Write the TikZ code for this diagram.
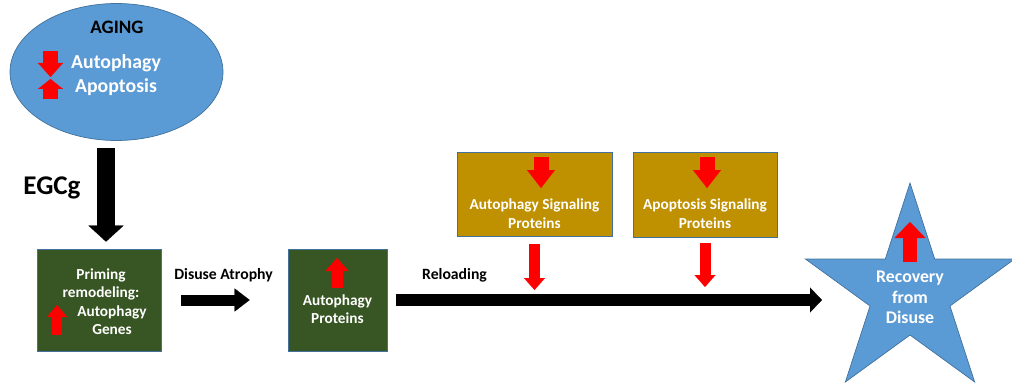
\documentclass[tikz,border=0pt]{standalone}
\usepackage{fontspec}
\setmainfont{Carlito}
\usetikzlibrary{arrows.meta,shapes.geometric}

\definecolor{agingblue}{RGB}{91,155,213}
\definecolor{edgeblue}{RGB}{65,113,156}
\definecolor{boxgreen}{RGB}{56,86,35}
\definecolor{boxgold}{RGB}{191,144,0}

\tikzset{
  greenbox/.style={draw=edgeblue,fill=boxgreen,line width=0.7pt,inner sep=0},
  goldbox/.style={draw=edgeblue,fill=boxgold,line width=0.7pt,inner sep=0},
  whitetext/.style={text=white,align=center,inner sep=0,font=\bfseries\fontsize{15.3}{18.5}\selectfont},
  blacktext/.style={text=black,inner sep=0,font=\bfseries\fontsize{15.7}{18}\selectfont},
  blockarrow/.style n args={3}{draw=black,line width=#1,-{Triangle[width=#2,length=#3,line width=0.1pt]}},
  redtip/.style n args={3}{draw=red,line width=#1,-{Triangle[width=#2,length=#3,line width=0.1pt]}}
}

\begin{document}
\begin{tikzpicture}[x=1pt,y=-1pt]
\useasboundingbox (0,0) rectangle (1012,385);
% aging
\node[ellipse,draw=edgeblue,fill=agingblue,line width=0.7pt,minimum width=213pt,minimum height=137pt] (aging) at (116.5,72) {};
\node[blacktext,font=\bfseries\fontsize{19}{20}\selectfont] (aging title) at (117,27) {AGING};
\node[whitetext,font=\bfseries\fontsize{19.8}{24}\selectfont] (aging text) at (116,75.5) {Autophagy\\Apoptosis};
\draw[redtip={15pt}{25pt}{14pt}] (50.5,51) -- (50.5,77);
\draw[redtip={15pt}{25pt}{10pt}] (50.5,99) -- (50.5,79);
% boxes
\node[greenbox,minimum width=124pt,minimum height=102pt] (priming) at (99,300) {};
\node[whitetext] (priming text) at (101,301.5) {Priming\\remodeling:\\\hspace*{22pt}Autophagy\\\hspace*{22pt}Genes};
\draw[redtip={10pt}{20pt}{12pt}] (57,335) -- (57,305);
\node[greenbox,minimum width=99pt,minimum height=102pt] (protein) at (337.5,300) {};
\node[whitetext] (protein text) at (337.5,309) {Autophagy\\Proteins};
\draw[redtip={11pt}{23pt}{13pt}] (337,288) -- (337,258);
\node[goldbox,minimum width=155pt,minimum height=84pt] (autosig) at (534.5,194) {};
\node[whitetext] (autosig text) at (534.5,213.5) {Autophagy Signaling\\Proteins};
\draw[redtip={15pt}{28pt}{18pt}] (541,157) -- (541,188);
\node[goldbox,minimum width=144pt,minimum height=85pt] (aposig) at (705,194.5) {};
\node[whitetext] (aposig text) at (705,213.5) {Apoptosis Signaling\\Proteins};
\draw[redtip={15pt}{28pt}{18pt}] (707,157) -- (707,188);
% recovery
\node[star,star points=5,star point ratio=2.618,minimum size=220pt,inner sep=0,draw=edgeblue,fill=agingblue,line width=0.7pt] (recovery) at (910,293) {};
\node[whitetext,font=\bfseries\fontsize{17.8}{20.5}\selectfont] (recovery text) at (910,297.5) {Recovery\\from\\Disuse};
\draw[redtip={14pt}{31pt}{16pt}] (910,262) -- (910,222);
% labels
\node[blacktext,font=\bfseries\fontsize{27}{28}\selectfont] (egcg) at (52,188) {EGCg};
\node[blacktext] (disuse) at (223.5,275) {Disuse Atrophy};
\node[blacktext] (reloading) at (454.5,275) {Reloading};
% connectors
\coordinate (egcg top) at ([xshift=-10.5pt]aging.south);
\coordinate (egcg foot) at (egcg top |- priming.north);
\draw[blockarrow={18pt}{35pt}{16pt},shorten <=7pt,shorten >=7pt] (egcg top) -- (egcg foot);
\draw[blockarrow={11pt}{23pt}{15pt},shorten <=20pt,shorten >=38pt] (priming.east) -- (protein.west);
\draw[blockarrow={12pt}{25pt}{12pt},shorten <=9pt,shorten >=88pt] (protein.east) -- (protein.east -| recovery);
\draw[redtip={11pt}{21pt}{12pt},shorten <=8pt,shorten >=10pt] (autosig.south) -- (autosig.south |- protein.east);
\draw[redtip={11pt}{21pt}{12pt},shorten <=6pt,shorten >=13pt] (aposig.south) -- (aposig.south |- protein.east);
\end{tikzpicture}
\end{document}
